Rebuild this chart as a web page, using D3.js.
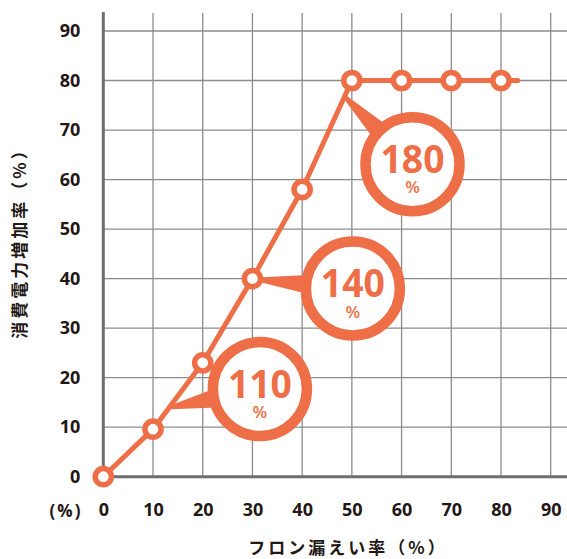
<!DOCTYPE html>
<html>
<head>
<meta charset="utf-8">
<script src="https://cdn.jsdelivr.net/npm/d3@7"></script>
<style>
  html, body { margin: 0; padding: 0; background: #fff; }
  svg { display: block; }
</style>
</head>
<body>
<svg id="chart" width="567" height="559"></svg>
<script>
// Leak rate (%) vs. increase in power consumption (%)
const leakRate = [0, 10, 20, 30, 40, 50, 60, 70, 80];
const powerIncrease = [0, 9.6, 23, 40, 58, 80, 80, 80, 80];
// the plotted line runs a little past the last marker
const lineTail = [83.4, 80];

const tickValues = [0, 10, 20, 30, 40, 50, 60, 70, 80, 90];

// callout bubbles: label, bubble centre (data units), pointer tip (data units)
const calloutLabels = ["110", "140", "180"];
const calloutCenters = [[31.5, 17.7], [50.2, 38.0], [62.2, 63.1]];
const calloutTips = [[13.5, 14.0], [31.0, 39.8], [48.6, 76.7]];

const xTitle = "フロン漏えい率（%）";
const yTitle = "消費電力増加率（%）";
const unitLabel = "(%)";

const W = 567, H = 559;
const ORANGE = "#EE6E47";
const INK = "#231815";
const GRID = "#8c8c8c";
const AXIS = "#6e6e6e";

const svg = d3.select("#chart");

const x = d3.scaleLinear().domain([0, 90]).range([103.3, 550.7]);
const y = d3.scaleLinear().domain([0, 90]).range([476.7, 31]);
const gridTop = 13;

// grid
const grid = svg.append("g");
grid.selectAll("line.v").data(tickValues.filter(d => d > 0)).join("line")
  .attr("x1", d => x(d)).attr("x2", d => x(d))
  .attr("y1", gridTop).attr("y2", y(0))
  .attr("stroke", GRID).attr("stroke-width", 1.3);
grid.selectAll("line.h").data(tickValues.filter(d => d > 0)).join("line")
  .attr("x1", x(0)).attr("x2", W)
  .attr("y1", d => y(d)).attr("y2", d => y(d))
  .attr("stroke", GRID).attr("stroke-width", 1.3);

// axes lines
svg.append("line").attr("x1", x(0)).attr("x2", x(0))
  .attr("y1", gridTop - 1).attr("y2", y(0) + 1.5)
  .attr("stroke", AXIS).attr("stroke-width", 3);
svg.append("line").attr("x1", x(0) - 1.5).attr("x2", W)
  .attr("y1", y(0)).attr("y2", y(0))
  .attr("stroke", AXIS).attr("stroke-width", 3);

// tick labels
const tickFont = "'Open Sans', 'DejaVu Sans', sans-serif";
const yAxis = svg.append("g").attr("transform", `translate(${x(0)},0)`)
  .call(d3.axisLeft(y).tickValues(tickValues).tickSize(0).tickPadding(23));
const xAxis = svg.append("g").attr("transform", `translate(0,${y(0)})`)
  .call(d3.axisBottom(x).tickValues(tickValues).tickSize(0).tickPadding(27));
[yAxis, xAxis].forEach(g => {
  g.select(".domain").remove();
  g.selectAll("text").attr("fill", INK)
    .style("font-family", tickFont).style("font-size", "18px").style("font-weight", 700);
});

svg.append("text").attr("x", 66).attr("y", 516.5)
  .attr("text-anchor", "middle").attr("fill", INK)
  .style("font-family", tickFont).style("font-size", "17px").style("font-weight", 700)
  .style("letter-spacing", "2px")
  .text(unitLabel);

// axis titles
const titleFont = "'Noto Sans CJK JP', sans-serif";
svg.append("text").attr("x", 348).attr("y", 554)
  .attr("text-anchor", "middle").attr("fill", INK)
  .style("font-family", titleFont).style("font-size", "17px").style("font-weight", 700)
  .style("letter-spacing", "3px")
  .text(xTitle);
svg.append("text")
  .attr("transform", "translate(26,239) rotate(-90)")
  .attr("text-anchor", "middle").attr("fill", INK)
  .style("font-family", titleFont).style("font-size", "17px").style("font-weight", 700)
  .style("letter-spacing", "3px")
  .text(yTitle);

// data line
const pts = leakRate.map((d, i) => [d, powerIncrease[i]]);
const linePts = pts.concat([lineTail]);
svg.append("path")
  .attr("d", d3.line().x(d => x(d[0])).y(d => y(d[1]))(linePts))
  .attr("fill", "none").attr("stroke", ORANGE).attr("stroke-width", 5)
  .attr("stroke-linecap", "round").attr("stroke-linejoin", "round");

// callouts
const callouts = calloutLabels.map((t, i) => ({
  label: t,
  cx: x(calloutCenters[i][0]), cy: y(calloutCenters[i][1]),
  tx: x(calloutTips[i][0]), ty: y(calloutTips[i][1])
}));
const R = 47;
const cg = svg.selectAll("g.callout").data(callouts).join("g").attr("class", "callout");
cg.append("path")
  .attr("d", d => {
    const a = Math.atan2(d.ty - d.cy, d.tx - d.cx);
    const spread = 0.2;
    const p = (ang, r) => [d.cx + r * Math.cos(ang), d.cy + r * Math.sin(ang)];
    const b1 = p(a - spread, R), b2 = p(a + spread, R);
    const perp = a + Math.PI / 2;
    const t1 = [d.tx + 2 * Math.cos(perp), d.ty + 2 * Math.sin(perp)];
    const t2 = [d.tx - 2 * Math.cos(perp), d.ty - 2 * Math.sin(perp)];
    return `M${b1}L${t2}L${t1}L${b2}Z`;
  })
  .attr("fill", ORANGE);
cg.append("circle")
  .attr("cx", d => d.cx).attr("cy", d => d.cy).attr("r", R)
  .attr("fill", "#fff").attr("stroke", ORANGE).attr("stroke-width", 10.5);
const lbl = cg.append("text")
  .attr("text-anchor", "middle").attr("fill", ORANGE)
  .style("font-family", "'Open Sans', sans-serif").style("font-weight", 700);
lbl.append("tspan")
  .attr("x", d => d.cx).attr("y", d => d.cy + 8.5)
  .attr("textLength", 64).attr("lengthAdjust", "spacingAndGlyphs")
  .style("font-size", "39px")
  .text(d => d.label);
lbl.append("tspan")
  .attr("x", d => d.cx).attr("y", d => d.cy + 29)
  .style("font-size", "17px").style("font-weight", 600)
  .text("%");

// markers
svg.selectAll("circle.pt").data(pts).join("circle").attr("class", "pt")
  .attr("cx", d => x(d[0])).attr("cy", d => y(d[1])).attr("r", 8.1)
  .attr("fill", "#fff").attr("stroke", ORANGE).attr("stroke-width", 5.5);
</script>
</body>
</html>
